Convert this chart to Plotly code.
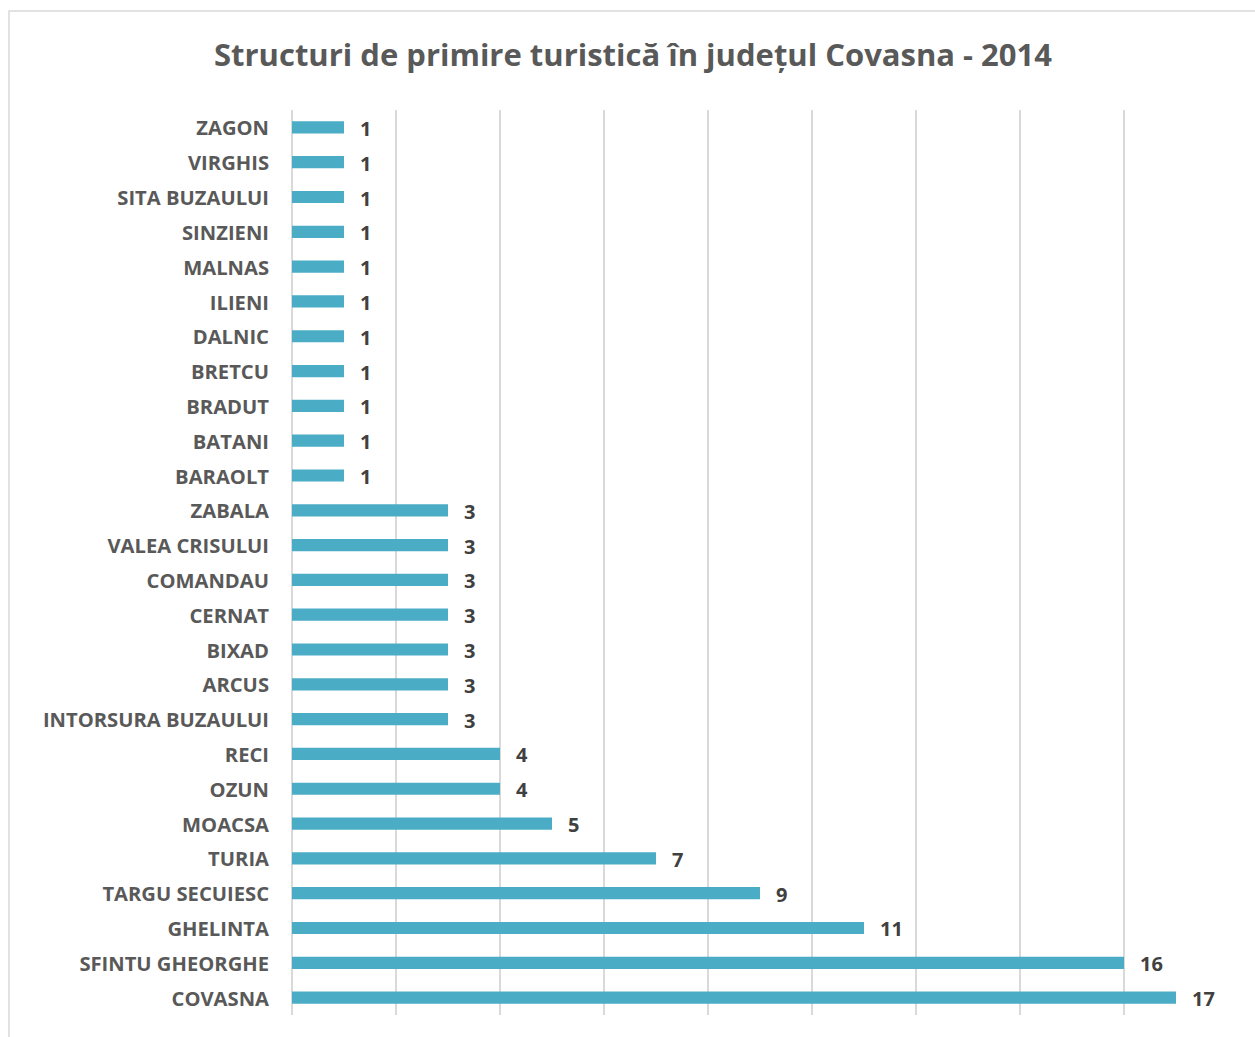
import plotly.graph_objects as go

# Tourist accommodation units per locality, Covasna county, 2014
localities = [
    "COVASNA", "SFINTU GHEORGHE", "GHELINTA", "TARGU SECUIESC", "TURIA",
    "MOACSA", "OZUN", "RECI", "INTORSURA BUZAULUI", "ARCUS", "BIXAD",
    "CERNAT", "COMANDAU", "VALEA CRISULUI", "ZABALA", "BARAOLT", "BATANI",
    "BRADUT", "BRETCU", "DALNIC", "ILIENI", "MALNAS", "SINZIENI",
    "SITA BUZAULUI", "VIRGHIS", "ZAGON",
]
units = [17, 16, 11, 9, 7, 5, 4, 4, 3, 3, 3, 3, 3, 3, 3,
         1, 1, 1, 1, 1, 1, 1, 1, 1, 1, 1]

BAR_COLOR = "#4BACC6"
LABEL_COLOR = "#595959"
VALUE_COLOR = "#404040"
FONT = "Open Sans"

fig = go.Figure(
    go.Bar(
        x=units,
        y=localities,
        orientation="h",
        marker=dict(color=BAR_COLOR, line=dict(width=0)),
        width=0.35,
        hoverinfo="x+y",
    )
)

for v, name in zip(units, localities):
    fig.add_annotation(
        x=v, y=name, text=f"<b>{v}</b>", showarrow=False,
        xanchor="left", yanchor="middle", xshift=14, yshift=-1,
        font=dict(family=FONT, size=20, color=VALUE_COLOR),
    )

# Outer chart border
fig.add_shape(
    type="rect", xref="paper", yref="paper",
    x0=(9 - 292) / 936, x1=(1262 - 292) / 936,
    y0=(1015 - 1045) / 905, y1=(1015 - 11) / 905,
    line=dict(color="#D9D9D9", width=1.5), fillcolor="rgba(0,0,0,0)",
    layer="below",
)

fig.update_layout(
    width=1255,
    height=1037,
    margin=dict(l=292, r=27, t=110, b=22),
    paper_bgcolor="white",
    plot_bgcolor="white",
    showlegend=False,
    title=dict(
        text="<b>Structuri de primire turistică în județul Covasna - 2014</b>",
        x=633 / 1255, xref="container", xanchor="center",
        y=1 - 55 / 1037, yref="container", yanchor="middle",
        font=dict(family=FONT, size=31, color=LABEL_COLOR),
    ),
    xaxis=dict(
        range=[0, 18],
        dtick=2,
        showticklabels=False,
        showgrid=True,
        gridcolor="#D9D9D9",
        gridwidth=1.5,
        zeroline=True,
        zerolinecolor="#D9D9D9",
        zerolinewidth=1.5,
        showline=False,
        fixedrange=True,
    ),
    yaxis=dict(
        categoryorder="array",
        categoryarray=localities,
        tickfont=dict(family=FONT, size=20.2, color=LABEL_COLOR, weight="bold"),
        ticklabelstandoff=22,
        ticklabelshift=1,
        showgrid=False,
        showline=False,
        ticks="",
        fixedrange=True,
    ),
)

fig.write_html("out.html")
